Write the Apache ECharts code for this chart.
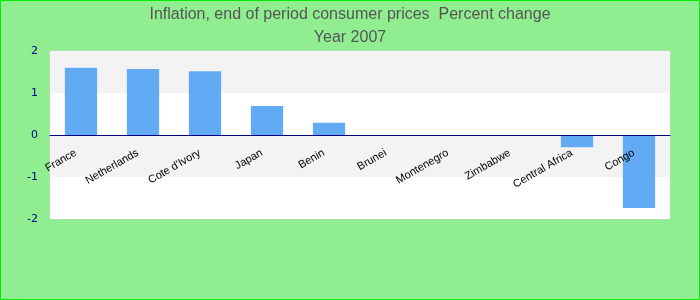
<!DOCTYPE html>
<html style="height: 100%">
<head>
  <meta charset="utf-8">
</head>
<body style="height: 100%; margin: 0">
  <div id="container" style="width: 700px; height: 300px"></div>
  <script src="https://cdn.jsdelivr.net/npm/echarts@6/dist/echarts.min.js"></script>
  <script type="text/javascript">
    var countries = ['France', 'Netherlands', "Cote d'Ivory", 'Japan', 'Benin', 'Brunei', 'Montenegro', 'Zimbabwe', 'Central Africa', 'Congo'];
    var inflation = [1.6, 1.57, 1.52, 0.69, 0.29, 0, 0, 0, -0.29, -1.74];
    var yTicks = [-2, -1, 0, 1, 2];

    var myChart = echarts.init(document.getElementById('container'));

    var option = {
      backgroundColor: '#90ee90',
      title: {
        text: 'Inflation, end of period consumer prices  Percent change\nYear 2007',
        left: 'center',
        top: -2,
        textStyle: {
          fontFamily: 'Liberation Sans',
          fontWeight: 'normal',
          fontSize: 16,
          color: '#555',
          lineHeight: 23
        }
      },
      graphic: [{
        type: 'rect',
        shape: { x: 0.5, y: 0.5, width: 699, height: 299 },
        style: { fill: 'none', stroke: '#00ee00', lineWidth: 1 }
      }],
      grid: {
        left: 50,
        right: 30,
        top: 51,
        bottom: 81,
        show: true,
        backgroundColor: '#fff',
        borderColor: '#ccc',
        borderWidth: 1
      },
      xAxis: {
        type: 'category',
        data: countries,
        offset: -84,
        z: 5,
        axisTick: { show: false },
        axisLine: { onZero: false, lineStyle: { color: '#000080', width: 1 } },
        axisLabel: {
          rotate: 30,
          interval: 0,
          fontFamily: 'Liberation Sans',
          fontSize: 11,
          color: '#000',
          margin: 14,
          padding: [0, 6, 0, 0]
        }
      },
      yAxis: {
        type: 'value',
        min: yTicks[0],
        max: yTicks[yTicks.length - 1],
        interval: 1,
        axisLine: { show: false },
        axisTick: { show: false },
        splitLine: { show: false },
        splitArea: { show: true, areaStyle: { color: ['#fff', '#f3f3f3'] } },
        axisLabel: {
          fontFamily: 'DejaVu Sans',
          fontSize: 11,
          color: '#00008b',
          margin: 12
        }
      },
      series: [{
        type: 'bar',
        data: inflation,
        barWidth: '52%',
        itemStyle: { color: '#63aaf5' }
      }]
    };

    myChart.setOption(option);
  </script>
</body>
</html>
